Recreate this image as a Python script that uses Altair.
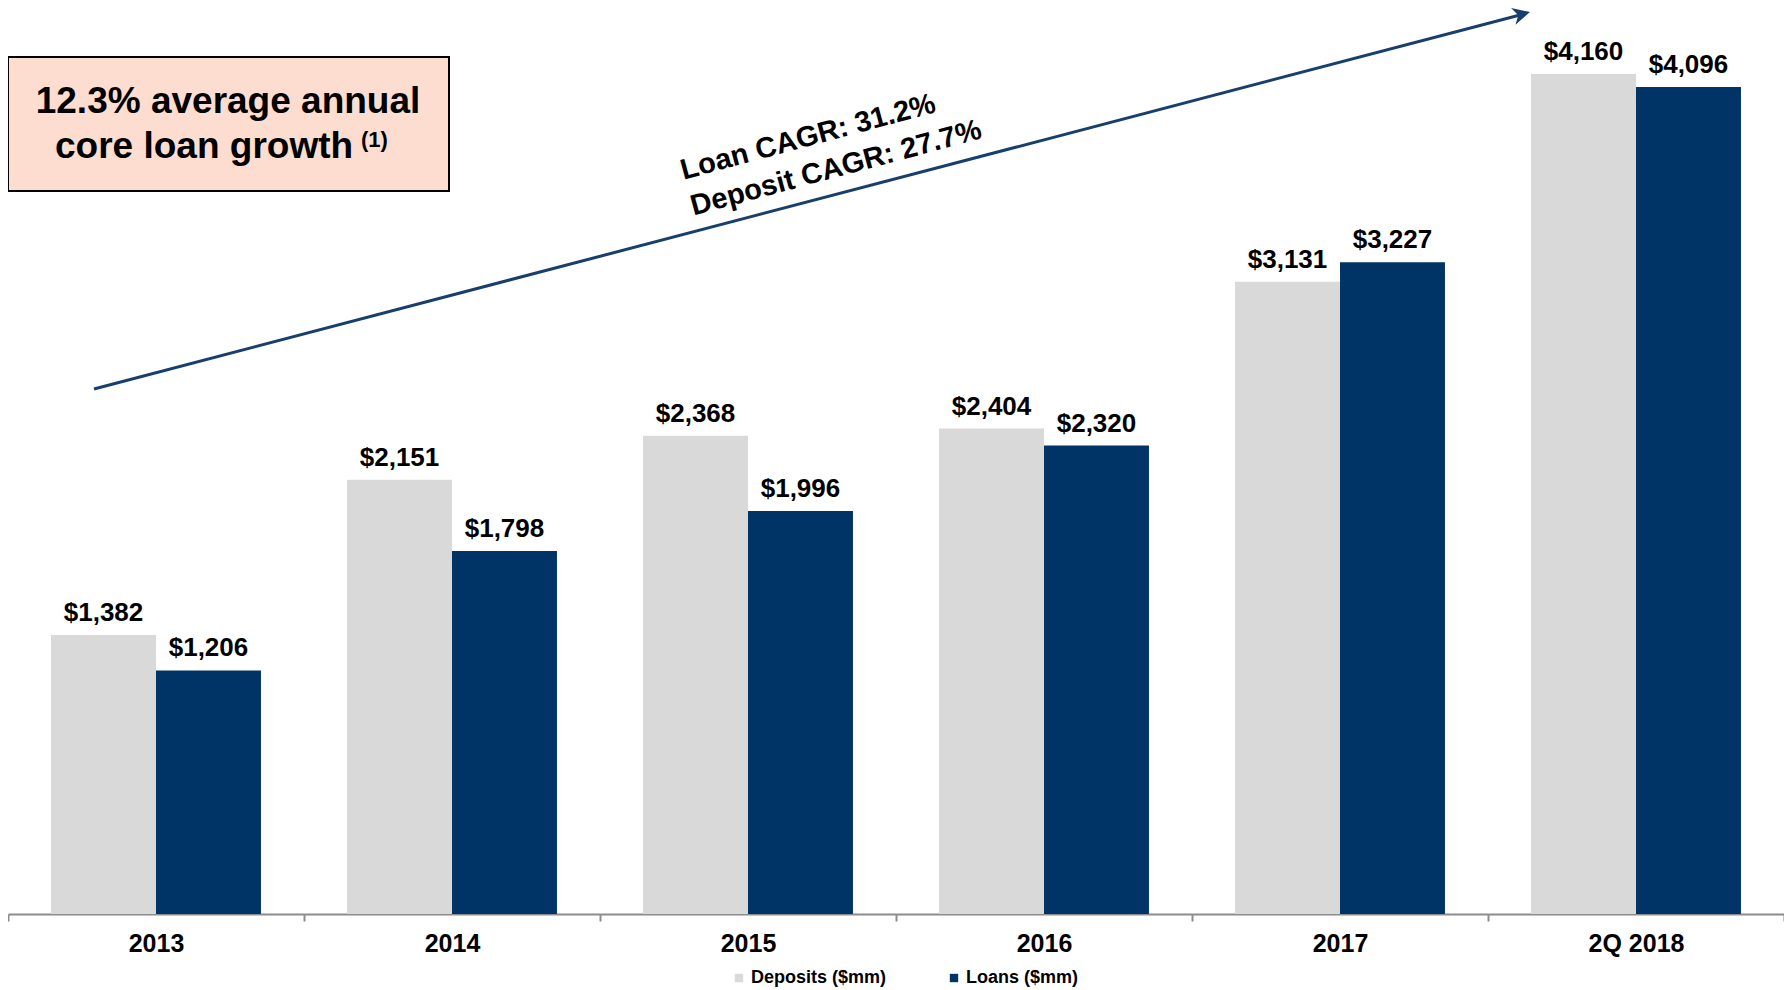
import altair as alt
import pandas as pd

categories = ["2013", "2014", "2015", "2016", "2017", "2Q 2018"]
deposits = [1382, 2151, 2368, 2404, 3131, 4160]
loans = [1206, 1798, 1996, 2320, 3227, 4096]
series_names = ["Deposits ($mm)", "Loans ($mm)"]
series_colors = ["#D9D9D9", "#003366"]

rows = []
for c, d, l in zip(categories, deposits, loans):
    rows.append({"cat": c, "series": series_names[0], "value": d})
    rows.append({"cat": c, "series": series_names[1], "value": l})
df = pd.DataFrame(rows)
one = pd.DataFrame({"k": [0]})

FONT = "Liberation Sans"
W, H = 1776, 900

x_enc = alt.X("cat:N", sort=categories, title=None,
              scale=alt.Scale(paddingInner=0, paddingOuter=0),
              axis=alt.Axis(labelFont=FONT, labelFontSize=25, labelFontWeight="bold",
                            labelColor="#000000", labelAngle=0, tickBand="extent",
                            domainColor="#8C8C8C", domainWidth=2, tickColor="#8C8C8C",
                            tickWidth=2, tickSize=7, labelPadding=10, grid=False))
y_enc = alt.Y("value:Q", scale=alt.Scale(domain=[0, 4457], nice=False), axis=None)
xo = alt.XOffset("series:N", sort=series_names,
                 scale=alt.Scale(paddingInner=0, paddingOuter=0.41))

bars = alt.Chart(df).mark_bar().encode(
    x=x_enc, y=y_enc, xOffset=xo,
    color=alt.Color("series:N", sort=series_names,
                    scale=alt.Scale(domain=series_names, range=series_colors),
                    legend=alt.Legend(title=None, orient="none", direction="horizontal",
                                      legendX=722, legendY=955, symbolType="square",
                                      symbolSize=70, symbolStrokeWidth=0,
                                      labelFont=FONT, labelFontSize=18, labelFontWeight="bold",
                                      labelColor="#000000", columnPadding=58,
                                      symbolOffset=0, labelOffset=3)),
)

labels = alt.Chart(df).mark_text(font=FONT, fontSize=26, fontWeight="bold", color="#000000",
                                 baseline="alphabetic", dy=-14).encode(
    x=alt.X("cat:N", sort=categories), y="value:Q", xOffset=xo,
    text=alt.Text("value:Q", format="$,.0f"),
)

arrow_line = alt.Chart(one).mark_rule(color="#173F6E", strokeWidth=3).encode(
    x=alt.value(86), y=alt.value(375), x2=alt.value(1512), y2=alt.value(1))
arrow_head = alt.Chart(one).mark_point(
    shape="M0,0 L-1,-0.5 L-0.7,0 L-1,0.5 Z", filled=True, color="#173F6E",
    opacity=1, size=1200, angle=345).encode(x=alt.value(1522), y=alt.value(-2))

cagr1 = alt.Chart(one).mark_text(font=FONT, fontSize=29, fontWeight="bold", color="#000000",
                                 angle=345, align="center", baseline="middle",
                                 text="Loan CAGR: 31.2%").encode(x=alt.value(800), y=alt.value(123))
cagr2 = alt.Chart(one).mark_text(font=FONT, fontSize=29, fontWeight="bold", color="#000000",
                                 angle=345, align="center", baseline="middle",
                                 text="Deposit CAGR: 27.7%").encode(x=alt.value(828), y=alt.value(154))

box = alt.Chart(one).mark_rect(fill="#FCDDD0", stroke="#000000", strokeWidth=2).encode(
    x=alt.value(0), x2=alt.value(441), y=alt.value(43), y2=alt.value(177))
box1 = alt.Chart(one).mark_text(font=FONT, fontSize=37, fontWeight="bold", color="#000000",
                                align="center", baseline="middle",
                                text="12.3% average annual").encode(x=alt.value(220), y=alt.value(88))
box2 = alt.Chart(one).mark_text(font=FONT, fontSize=37, fontWeight="bold", color="#000000",
                                align="left", baseline="middle",
                                text="core loan growth").encode(x=alt.value(47), y=alt.value(133))
box3 = alt.Chart(one).mark_text(font=FONT, fontSize=22, fontWeight="bold", color="#000000",
                                align="left", baseline="middle",
                                text="(1)").encode(x=alt.value(353), y=alt.value(126))

chart = alt.layer(bars, labels, arrow_line, arrow_head, cagr1, cagr2, box, box1, box2, box3).properties(
    width=W, height=H, padding={"left": 0, "top": 6, "right": 0, "bottom": 76},
    autosize=alt.AutoSizeParams(type="none"),
    background="#FFFFFF"
).configure_view(stroke=None)

chart.save("out.html", embed_options={"renderer": "svg", "actions": False})
